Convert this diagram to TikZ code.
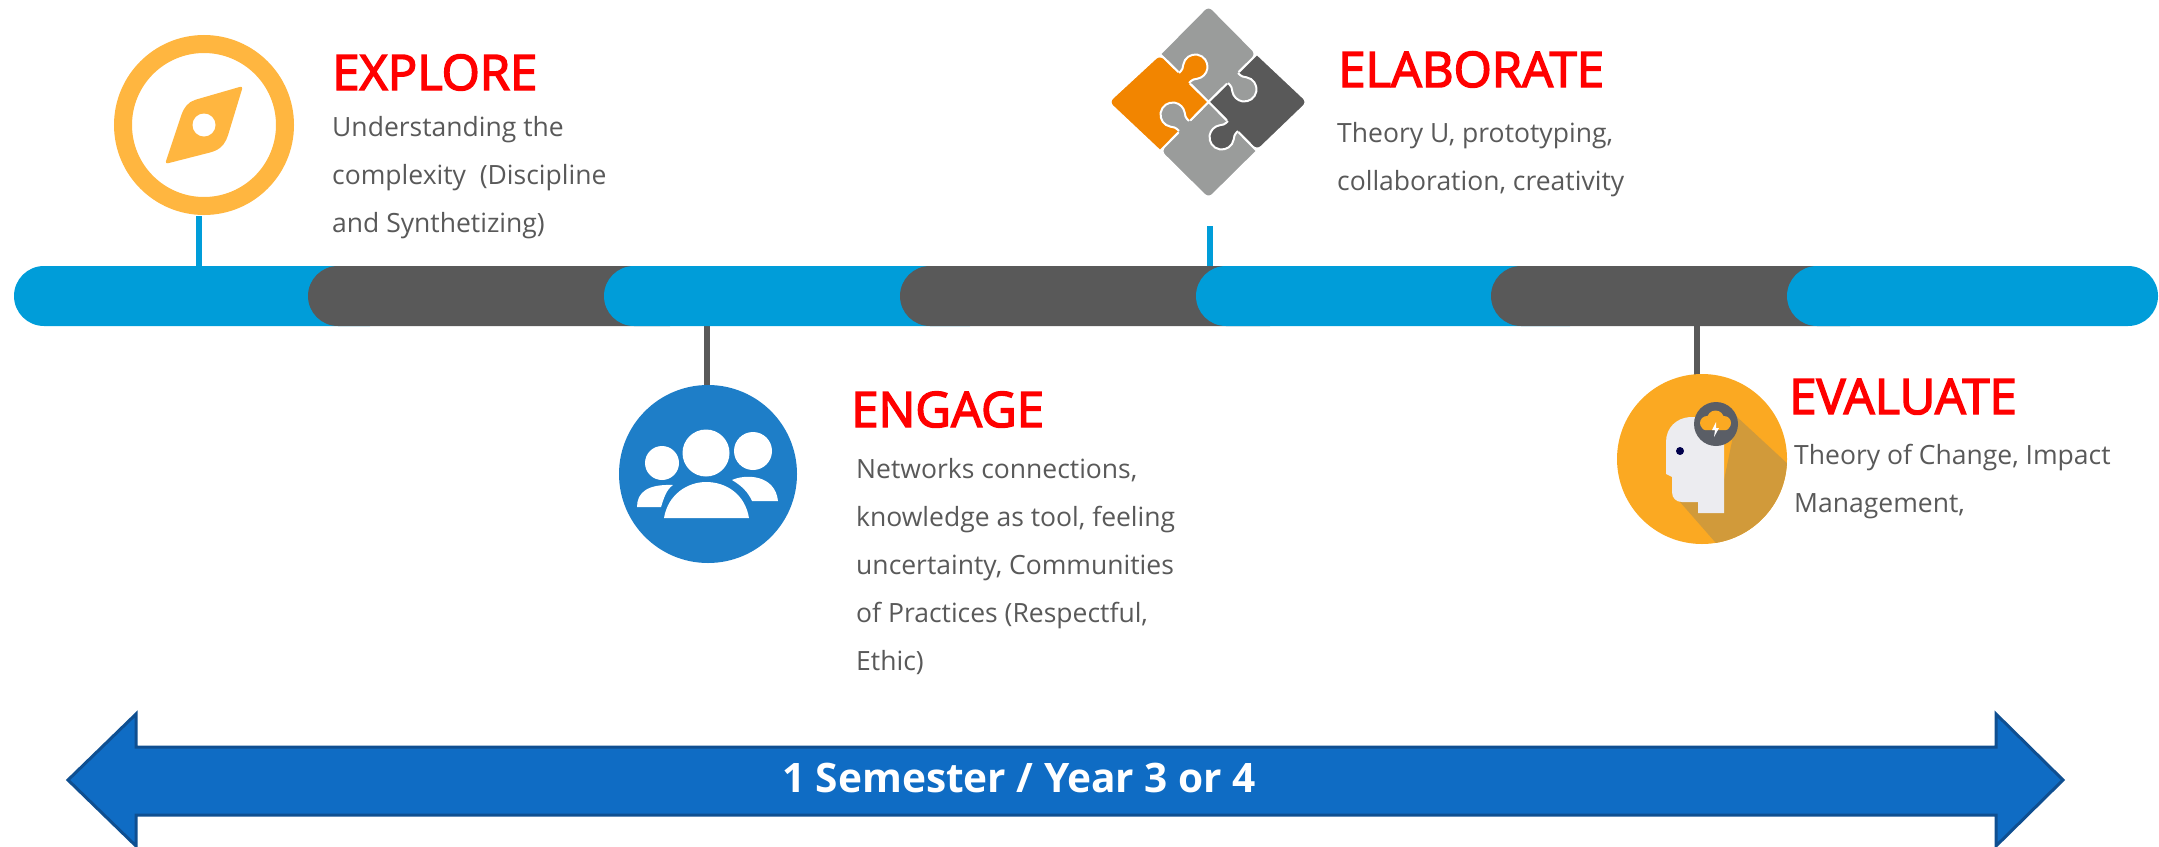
\documentclass[tikz,border=0pt]{standalone}
\usepackage{fontspec}
\setmainfont{Open Sans}
\newfontfamily\titlefont[FakeBold=3]{Open Sans}
\definecolor{barblue}{HTML}{009DD9}
\definecolor{bardark}{HTML}{595959}
\definecolor{compassamber}{HTML}{FFB640}
\definecolor{peopleblue}{HTML}{1E7EC8}
\definecolor{headamber}{HTML}{FBA922}
\definecolor{headshade}{HTML}{D19A3A}
\definecolor{headpale}{HTML}{ECECF0}
\definecolor{headring}{HTML}{5A5E66}
\definecolor{puzzlegrey}{HTML}{9A9C9B}
\definecolor{puzzleorange}{HTML}{F28500}
\definecolor{arrowfill}{HTML}{0F6CC4}
\definecolor{arrowedge}{HTML}{0F4F91}
\definecolor{bodygrey}{HTML}{595959}
\tikzset{
  phasetitle/.style={anchor=base west, inner sep=0pt, text=red, font=\titlefont\fontsize{49}{54}\selectfont},
  phasebody/.style={anchor=north west, inner sep=0pt, align=left, text=bodygrey, font=\fontsize{26.5}{48}\selectfont},
  stemblue/.style={draw=barblue, line width=6pt},
  stemdark/.style={draw=bardark, line width=6pt},
  piece/.style={draw=white, line width=2pt},
  baseg/.style={rounded corners=30pt}
}
\begin{document}
\begin{tikzpicture}[x=1pt, y=-1pt]
\useasboundingbox (0,0) rectangle (2159,846);
% Stems
\coordinate (explorefoot) at (199,266);
\coordinate (explorehead) at (199,216);
\coordinate (elaboratefoot) at (1210,266);
\coordinate (elaboratehead) at (1210,226);
\coordinate (engagefoot) at (707,326);
\coordinate (engagehead) at (707,386);
\coordinate (evaluatefoot) at (1697,326);
\coordinate (evaluatehead) at (1697,375);
\draw[stemblue] (explorefoot) -- (explorehead);
\draw[stemblue] (elaboratefoot) -- (elaboratehead);
\draw[stemdark] (engagefoot) -- (engagehead);
\draw[stemdark] (evaluatefoot) -- (evaluatehead);
% Timeline
\fill[baseg, barblue] (14,266) rectangle (400,326);
\fill[baseg, bardark] (308,266) rectangle (700,326);
\fill[baseg, barblue] (604,266) rectangle (1000,326);
\fill[baseg, bardark] (900,266) rectangle (1300,326);
\fill[baseg, barblue] (1196,266) rectangle (1600,326);
\fill[baseg, bardark] (1491,266) rectangle (1880,326);
\fill[baseg, barblue] (1787,266) rectangle (2158,326);
% Compass
\node[circle, draw=compassamber, line width=18pt, minimum size=162pt, inner sep=0pt] (exploreicon) at (204,125) {};
\fill[compassamber, rounded corners=3pt] (243,86) -- (198,99) .. controls (188,102) and (184,108) .. (181,116) -- (165,164) -- (212,152) .. controls (222,148) and (226,142) .. (229,132) -- cycle;
\fill[white] (204,125) circle (11.5);
% Puzzle
\coordinate (hub) at (1208.5,102);
\draw[piece, fill=puzzlegrey] (hub) -- (1160,54) [rounded corners=6pt] -- (1208.5,5) -- (1257,54) [sharp corners] -- cycle;
\draw[piece, fill=bardark] (hub) -- (1257,54) [rounded corners=6pt] -- (1308,102) -- (1257,151) [sharp corners] -- cycle;
\draw[piece, fill=puzzlegrey] (hub) -- (1257,151) [rounded corners=6pt] -- (1208.5,199) -- (1160,151) [sharp corners] -- cycle;
\draw[piece, fill=puzzleorange] (hub) -- (1160,151) [rounded corners=6pt] -- (1108,102) -- (1160,54) [sharp corners] -- cycle;
\foreach \kx/\ky/\ka/\kc in {1184/78/45/puzzleorange, 1233/78/-45/puzzlegrey, 1233/126/-135/bardark, 1184/126/135/puzzlegrey}{
  \begin{scope}[shift={(\kx,\ky)}, rotate=\ka]
  \fill[\kc] (-3,-8) rectangle (2,8);
  \fill[\kc] (0,-7) .. controls (5,-7) and (7,-8) .. (9,-10) arc[start angle=-125, end angle=125, radius=12.2] .. controls (7,8) and (5,7) .. (0,7) -- cycle;
  \draw[white, line width=2pt] (0,-7) .. controls (5,-7) and (7,-8) .. (9,-10) arc[start angle=-125, end angle=125, radius=12.2] .. controls (7,8) and (5,7) .. (0,7);
  \end{scope}
}
% People
\node[circle, fill=peopleblue, minimum size=178pt, inner sep=0pt] (engageicon) at (708,474) {};
\fill[white] (706,453) circle (23.5);
\fill[white] (662,463) circle (17);
\fill[white] (753,451) circle (19);
\fill[white] (664,518) .. controls (668,494) and (688,482) .. (706,482) .. controls (726,482) and (745,494) .. (749,518) -- cycle;
\fill[white] (637,507) .. controls (637,492) and (648,484) .. (673,485) .. controls (666,490) and (664,498) .. (661,507) -- cycle;
\fill[white] (732,480) .. controls (745,474) and (775,474) .. (778,501) -- (752,501) .. controls (748,492) and (742,486) .. (732,480) -- cycle;
% Head
\node[circle, fill=headamber, minimum size=170pt, inner sep=0pt] (evaluateicon) at (1702,459) {};
\begin{scope}
\clip (1702,459) circle (85);
\fill[headshade] (1737,417) -- (1790,466) -- (1790,550) -- (1722,550) -- (1680,502) -- (1724,480) -- cycle;
\end{scope}
\fill[headpale] (1690,417) .. controls (1676,418) and (1666,428) .. (1666,442) -- (1666,474) -- (1672,477) -- (1672,492) .. controls (1672,498) and (1676,502) .. (1682,502) -- (1698,502) -- (1698,513) -- (1724,513) -- (1724,417) -- cycle;
\fill[black!70!blue] (1680,451) circle (4);
\fill[headring] (1716,424) circle (22);
\fill[headamber] (1707,423) circle (7) (1715.5,419) circle (8.5) (1724,423) circle (7);
\fill[headamber, rounded corners=3pt] (1702,423) rectangle (1729,430);
\fill[white] (1716,422) -- (1712,430) -- (1715,430) -- (1714,437) -- (1719,428) -- (1716,428) -- cycle;
% Arrow
\draw[fill=arrowfill, draw=arrowedge, line width=3pt] (68,780) -- (136,714) -- (136,747) -- (1996,747) -- (1996,714) -- (2063,780) -- (1996,846) -- (1996,815) -- (136,815) -- (136,846) -- cycle;
\node[inner sep=0pt, text=white, font=\fontsize{40.6}{46}\selectfont\bfseries] (spanlabel) at (1019,778) {1 Semester / Year 3 or 4};
% Text
\node[phasetitle] (exploretitle) at (332,90) {EXPLORE};
\node[phasebody] (explorebody) at (332,116) {Understanding the\\complexity~ (Discipline\\and Synthetizing)};
\node[phasetitle] (elaboratetitle) at (1338,87) {ELABORATE};
\node[phasebody] (elaboratebody) at (1337,122) {Theory U, prototyping,\\collaboration, creativity};
\node[phasetitle] (engagetitle) at (851,427) {ENGAGE};
\node[phasebody] (engagebody) at (856,458) {Networks connections,\\knowledge as tool, feeling\\uncertainty, Communities\\of Practices (Respectful,\\Ethic)};
\node[phasetitle] (evaluatetitle) at (1789,414) {EVALUATE};
\node[phasebody] (evaluatebody) at (1794,444) {Theory of Change, Impact\\Management,};
\end{tikzpicture}
\end{document}
